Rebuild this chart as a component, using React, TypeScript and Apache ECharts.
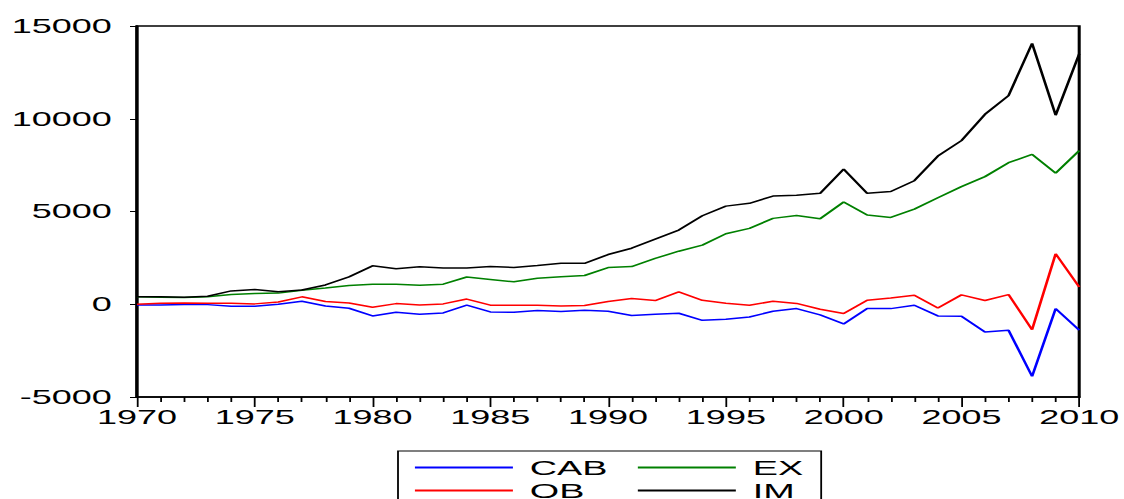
import React, { useEffect, useRef } from "react";
import * as echarts from "echarts";

const years: number[] = [];
for (let y = 1970; y <= 2010; y++) years.push(y);

const CAB = [
  -35, -35, -20, -20, -110, -110, 0, 160, -90, -215,
  -630, -430, -540, -470, -45, -415, -430, -340, -395, -325,
  -380, -610, -540, -485, -865, -810, -685, -380, -235, -575,
  -1060, -235, -235, -55, -630, -650, -1495, -1400, -3890, -235, -1400,
];
const OB = [
  0, 50, 70, 50, 50, 20, 125, 400, 145, 70,
  -160, 35, -35, 20, 280, -50, -55, -55, -90, -70,
  145, 305, 200, 670, 215, 55, -55, 160, 45, -270,
  -500, 215, 340, 485, -200, 505, 200, 520, -1370, 2720, 935,
];
const EX = [
  400, 380, 360, 400, 520, 580, 600, 760, 880, 1010,
  1080, 1080, 1025, 1080, 1470, 1340, 1210, 1400, 1480, 1550,
  1980, 2030, 2470, 2860, 3190, 3800, 4090, 4630, 4780, 4610,
  5510, 4810, 4680, 5130, 5740, 6340, 6880, 7630, 8080, 7070, 8280,
];
const IM = [
  400, 400, 380, 430, 720, 790, 670, 770, 1040, 1475,
  2070, 1910, 2020, 1960, 1960, 2030, 1980, 2090, 2210, 2210,
  2680, 3020, 3510, 4000, 4770, 5290, 5440, 5830, 5880, 5980,
  7290, 5980, 6080, 6660, 7990, 8820, 10240, 11250, 14060, 10190, 13500,
];

const seriesNames = ["CAB", "EX", "OB", "IM"];
const seriesColors = ["#0000ff", "#008000", "#ff0000", "#000000"];
const seriesValues = [CAB, EX, OB, IM];

const S = 1.8; // horizontal stretch of the reference picture
const W = 1124;
const H = 499;
const FONT = "Liberation Sans";

export default function App() {
  const ref = useRef<HTMLDivElement>(null);
  useEffect(() => {
    document.body.style.margin = "0";
    const chart = echarts.init(ref.current!, null, { renderer: "svg" });
    const colTextWidth = [58, 25, 58, 25];
    chart.setOption({
      animation: false,
      backgroundColor: "#ffffff",
      grid: {
        left: 137 / S,
        right: 44 / S,
        top: 26,
        bottom: 102,
        show: true,
        borderColor: "#000",
        borderWidth: 1.7,
        outerBoundsMode: "none",
        containLabel: false,
      },
      xAxis: {
        type: "value",
        min: 1970,
        max: 2010,
        interval: 5,
        axisLine: { show: true, onZero: false, lineStyle: { color: "#000", width: 1.7 } },
        axisTick: { show: true, length: 10, lineStyle: { color: "#000", width: 1 } },
        minorTick: { show: true, splitNumber: 5, length: 5, lineStyle: { color: "#000", width: 1 } },
        splitLine: { show: false },
        axisLabel: {
          color: "#000",
          fontFamily: FONT,
          fontSize: 20,
          margin: 10,
          formatter: (v: number) => String(v),
        },
      },
      yAxis: {
        type: "value",
        min: -5000,
        max: 15000,
        interval: 5000,
        axisLine: { show: true, lineStyle: { color: "#000", width: 1.7 } },
        axisTick: { show: true, length: 7 / S, lineStyle: { color: "#000", width: 1 } },
        splitLine: { show: false },
        axisLabel: {
          color: "#000",
          fontFamily: FONT,
          fontSize: 20,
          margin: 14,
          formatter: (v: number) => String(v),
        },
      },
      legend: {
        left: 398 / S,
        top: 451,
        orient: "horizontal",
        width: 216,
        itemGap: 2,
        itemWidth: 98 / S,
        itemHeight: 2,
        icon: "rect",
        selectedMode: false,
        borderColor: "#000",
        borderWidth: 1,
        padding: [6, 10, 6, 9.4],
        data: seriesNames.map((n, i) => ({
          name: n,
          textStyle: {
            width: colTextWidth[i],
            padding: [0, 0, 0, 4.4],
            fontFamily: FONT,
            fontSize: 21,
            lineHeight: 18,
            color: "#000",
          },
        })),
      },
      series: seriesNames.map((n, i) => ({
        name: n,
        type: "line",
        symbol: "none",
        color: seriesColors[i],
        lineStyle: { color: seriesColors[i], width: 1.5 },
        data: years.map((y, k) => [y, seriesValues[i][k]]),
      })),
    });
    return () => chart.dispose();
  }, []);
  return (
    <div style={{ width: W, height: H, overflow: "hidden", background: "#fff" }}>
      <div
        ref={ref}
        style={{
          width: W / S,
          height: H,
          transform: `scaleX(${S})`,
          transformOrigin: "0 0",
        }}
      />
    </div>
  );
}
